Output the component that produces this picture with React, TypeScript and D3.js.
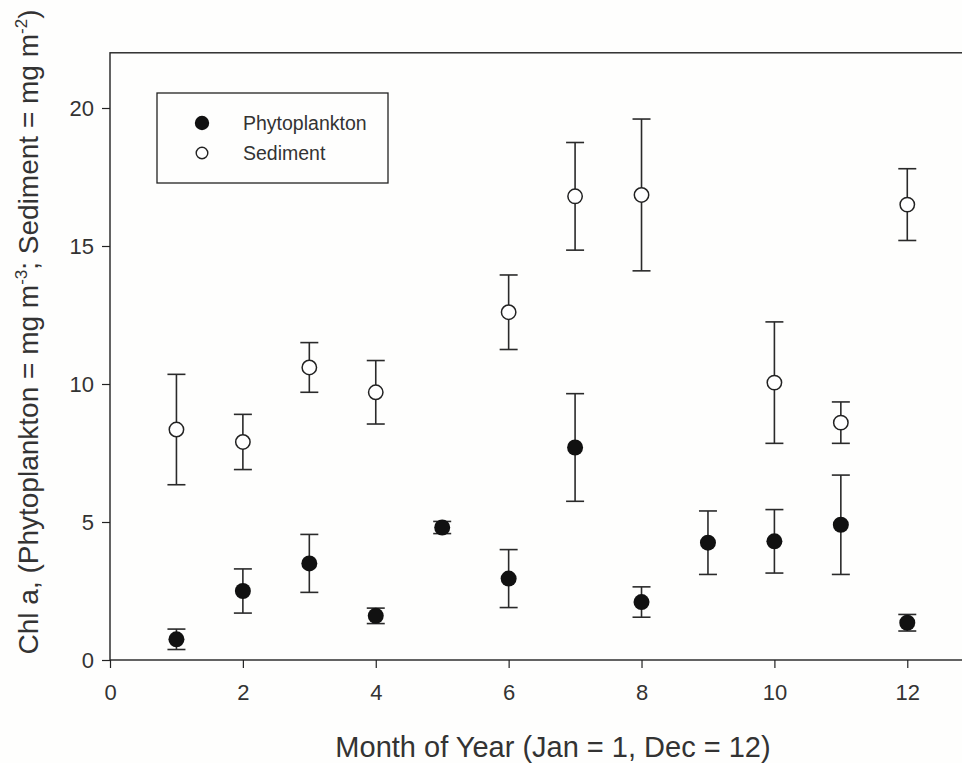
import React, { useRef, useEffect } from 'react';
import * as d3 from 'd3';

// months 1..12
const months = [1, 2, 3, 4, 5, 6, 7, 8, 9, 10, 11, 12];

// phytoplankton chl a (mg m-3) with error
const phytoMean = [0.75, 2.5, 3.5, 1.6, 4.8, 2.95, 7.7, 2.1, 4.25, 4.3, 4.9, 1.35];
const phytoErr = [0.37, 0.8, 1.05, 0.28, 0.22, 1.05, 1.95, 0.55, 1.15, 1.15, 1.8, 0.3];

// sediment chl a (mg m-2) with error, months 5 and 9 missing
const sedMonths = [1, 2, 3, 4, 6, 7, 8, 10, 11, 12];
const sedMean = [8.35, 7.9, 10.6, 9.7, 12.6, 16.8, 16.85, 10.05, 8.6, 16.5];
const sedErr = [2.0, 1.0, 0.9, 1.15, 1.35, 1.95, 2.75, 2.2, 0.75, 1.3];

const xTicks = [0, 2, 4, 6, 8, 10, 12];
const yTicks = [0, 5, 10, 15, 20];

const FONT = 'Liberation Sans, Arial, sans-serif';
const INK = '#222';
const TXT = '#333';

function drawChart(ref: React.RefObject<SVGSVGElement | null>) {
  const svg = d3.select(ref.current);
  svg.selectAll('*').remove();

  const left = 110, top = 52.8, bottom = 660;
  const unit = 66.44;

  const x = d3.scaleLinear().domain([0, 13]).range([left, left + 13 * unit]);
  const y = d3.scaleLinear().domain([0, 22]).range([bottom, top]);

  svg.append('rect').attr('width', 962).attr('height', 763).attr('fill', '#fefefd');

  // frame
  svg.append('rect')
     .attr('x', x(0)).attr('y', y(22))
     .attr('width', x(13) - x(0)).attr('height', y(0) - y(22))
     .attr('fill', 'none').attr('stroke', INK).attr('stroke-width', 1.4);

  // axes
  const xAxis = svg.append('g')
     .attr('transform', `translate(0,${bottom})`)
     .call(d3.axisBottom(x).tickValues(xTicks).tickSize(8).tickPadding(16).tickFormat(d3.format('d')));
  const yAxis = svg.append('g')
     .attr('transform', `translate(${left},0)`)
     .call(d3.axisLeft(y).tickValues(yTicks).tickSize(8).tickPadding(8).tickFormat(d3.format('d')));

  [xAxis, yAxis].forEach(a => {
    a.select('.domain').remove();
    a.selectAll('line').attr('stroke', INK).attr('stroke-width', 1.2);
    a.selectAll('text')
     .attr('fill', TXT)
     .style('font-family', FONT)
     .style('font-size', '22px');
  });

  // error bars
  function errorBars(xs: number[], means: number[], errs: number[]) {
    const g = svg.append('g').attr('stroke', '#2a2a2a').attr('stroke-width', 1.6);
    xs.forEach((m, i) => {
      const cx = x(m);
      const hi = y(means[i] + errs[i]);
      const lo = y(means[i] - errs[i]);
      g.append('line').attr('x1', cx).attr('x2', cx).attr('y1', hi).attr('y2', lo);
      g.append('line').attr('x1', cx - 9).attr('x2', cx + 9).attr('y1', hi).attr('y2', hi);
      g.append('line').attr('x1', cx - 9).attr('x2', cx + 9).attr('y1', lo).attr('y2', lo);
    });
  }
  errorBars(sedMonths, sedMean, sedErr);
  errorBars(months, phytoMean, phytoErr);

  // points
  svg.append('g').selectAll('circle')
     .data(sedMonths)
     .join('circle')
     .attr('cx', d => x(d))
     .attr('cy', (d, i) => y(sedMean[i]))
     .attr('r', 7.2)
     .attr('fill', '#fff')
     .attr('stroke', '#222')
     .attr('stroke-width', 1.5);

  svg.append('g').selectAll('circle')
     .data(months)
     .join('circle')
     .attr('cx', d => x(d))
     .attr('cy', (d, i) => y(phytoMean[i]))
     .attr('r', 8)
     .attr('fill', '#111');

  // legend
  const leg = svg.append('g');
  leg.append('rect')
     .attr('x', 157).attr('y', 93).attr('width', 231).attr('height', 90)
     .attr('fill', 'none').attr('stroke', INK).attr('stroke-width', 1.3);
  leg.append('circle').attr('cx', 202).attr('cy', 123).attr('r', 7.2).attr('fill', '#111');
  leg.append('circle').attr('cx', 202).attr('cy', 153).attr('r', 5.8)
     .attr('fill', '#fff').attr('stroke', '#222').attr('stroke-width', 1.4);
  leg.append('text').attr('x', 243).attr('y', 130).text('Phytoplankton');
  leg.append('text').attr('x', 243).attr('y', 160).text('Sediment');
  leg.selectAll('text').attr('fill', TXT).style('font-family', FONT).style('font-size', '19.5px');

  // x title
  svg.append('text')
     .attr('x', 553).attr('y', 757)
     .attr('text-anchor', 'middle')
     .attr('fill', TXT)
     .style('font-family', FONT).style('font-size', '29px')
     .text('Month of Year (Jan = 1, Dec = 12)');

  // y title with superscripts
  const yt = svg.append('text')
     .attr('transform', 'translate(38,332) rotate(-90)')
     .attr('text-anchor', 'middle')
     .attr('fill', TXT)
     .style('font-family', FONT).style('font-size', '28px');
  yt.append('tspan').text('Chl a, (Phytoplankton = mg m');
  yt.append('tspan').attr('dy', -11).style('font-size', '17px').text('-3');
  yt.append('tspan').attr('dy', 11).text('; Sediment = mg m');
  yt.append('tspan').attr('dy', -11).style('font-size', '17px').text('-2');
  yt.append('tspan').attr('dy', 11).text(')');
}

export default function App() {
  const ref = useRef<SVGSVGElement>(null);

  useEffect(() => {
    drawChart(ref);
  }, []);

  return (
    <div style={{ position: 'fixed', left: 0, top: 0 }}>
      <svg ref={ref} width={962} height={763} style={{ display: 'block' }}></svg>
    </div>
  );
}
